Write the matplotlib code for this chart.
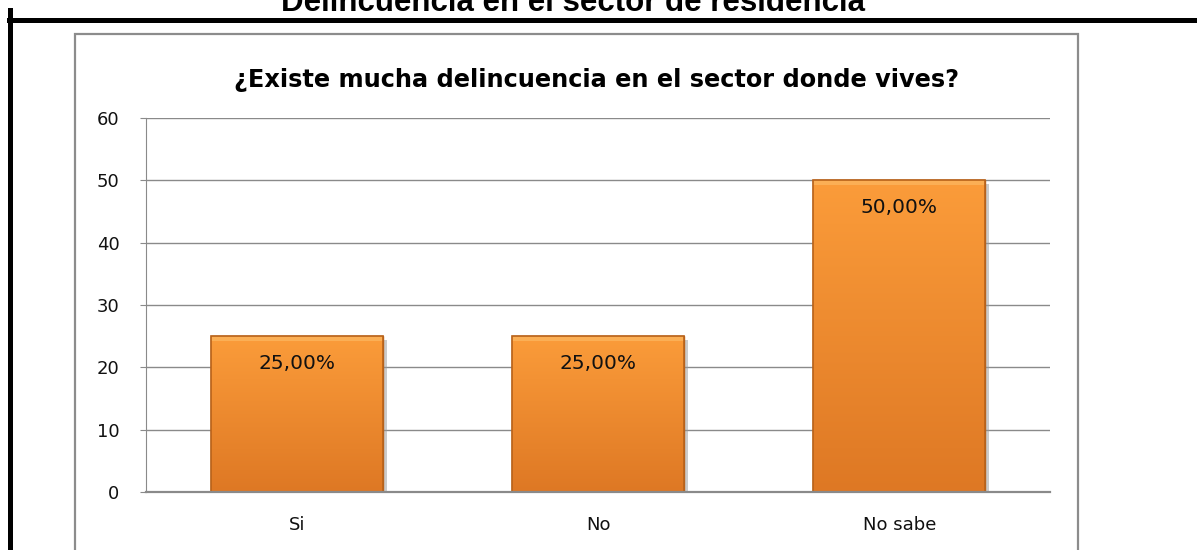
import matplotlib.pyplot as plt
import matplotlib.patheffects as pe
from matplotlib.patches import Rectangle
import numpy as np

# datos del grafico
categorias = ['Si', 'No', 'No sabe']
porcentajes = [25, 25, 50]
etiquetas = ['25,00%', '25,00%', '50,00%']
yticks = [0, 10, 20, 30, 40, 50, 60]

W, H = 1197, 550
fig = plt.figure(figsize=(W / 100, H / 100), dpi=100)

# marco del documento (lineas negras gruesas)
fig.add_artist(plt.Line2D([9 / W, 1], [1 - 20 / H] * 2, color='black', lw=3.6))
fig.add_artist(plt.Line2D([10 / W] * 2, [1 - 10 / H, 0], color='black', lw=3.6))

# titulo principal, cortado arriba en el original
fig.text(573 / W, 1 - 11 / H, 'Delincuencia en el sector de residencia',
         ha='center', va='baseline', fontsize=22.5, fontweight='bold',
         family='Liberation Sans')

# borde del grafico
fig.add_artist(Rectangle((75 / W, -0.1), (1078 - 75) / W, 1.1 - 34 / H,
                         transform=fig.transFigure, fill=False,
                         edgecolor='#8c8c8c', lw=1.6))

fig.text(597 / W, 1 - 80 / H, '¿Existe mucha delincuencia en el sector donde vives?',
         ha='center', va='center', fontsize=17.3, fontweight='bold',
         family='DejaVu Sans')

ax = fig.add_axes([146 / W, 1 - 492 / H, (1050 - 146) / W, (492 - 118) / H])
ax.set_ylim(0, 60)
ax.set_yticks(yticks)
ax.set_xlim(-0.5, 2.5)
ax.grid(axis='y', color='#8a8a8a', lw=1)
ax.set_axisbelow(True)
for s in ['top', 'right']:
    ax.spines[s].set_visible(False)
ax.spines['left'].set_color('#8a8a8a')
ax.spines['bottom'].set_color('#8a8a8a')
ax.spines['bottom'].set_linewidth(1.6)
ax.tick_params(axis='y', length=4, color='#8a8a8a', labelsize=13, pad=15,
               labelcolor='#111111')
ax.tick_params(axis='x', length=0, labelsize=13, pad=17, labelcolor='#111111')

bars = ax.bar(categorias, porcentajes, width=0.57, color='#F28C2E',
              edgecolor='#B8621A', lw=1,
              path_effects=[pe.SimplePatchShadow(offset=(3, -3), shadow_rgbFace='#999999', alpha=0.5),
                            pe.Normal()])

# degradado naranja dentro de cada barra
grad = np.linspace(0, 1, 256).reshape(-1, 1)
top = np.array([251, 156, 58]) / 255
bot = np.array([222, 120, 36]) / 255
img = top * (1 - grad[..., None]) + bot * grad[..., None]
img = img.reshape(256, 1, 3)
for b in bars:
    x0, w, h = b.get_x(), b.get_width(), b.get_height()
    im = ax.imshow(img, extent=[x0, x0 + w, 0, h], aspect='auto', zorder=2.1,
                   origin='upper')
    im.set_clip_path(b)
    ax.add_patch(Rectangle((x0, h - 0.8), w, 0.8, color='#FDBE68', alpha=0.6,
                           zorder=2.2, lw=0))
    ax.add_patch(Rectangle((x0, 0), w, h, fill=False, edgecolor='#B8621A',
                           lw=1.2, zorder=2.3))

for b, t in zip(bars, etiquetas):
    ax.annotate(t, (b.get_x() + b.get_width() / 2, b.get_height()),
                xytext=(0, -27), textcoords='offset pixels',
                ha='center', va='center', fontsize=14.5, zorder=3,
                color='#111111')

ax.set_xlim(-0.5, 2.5)
ax.set_ylim(0, 60)

fig.savefig('out.png', dpi=100)
